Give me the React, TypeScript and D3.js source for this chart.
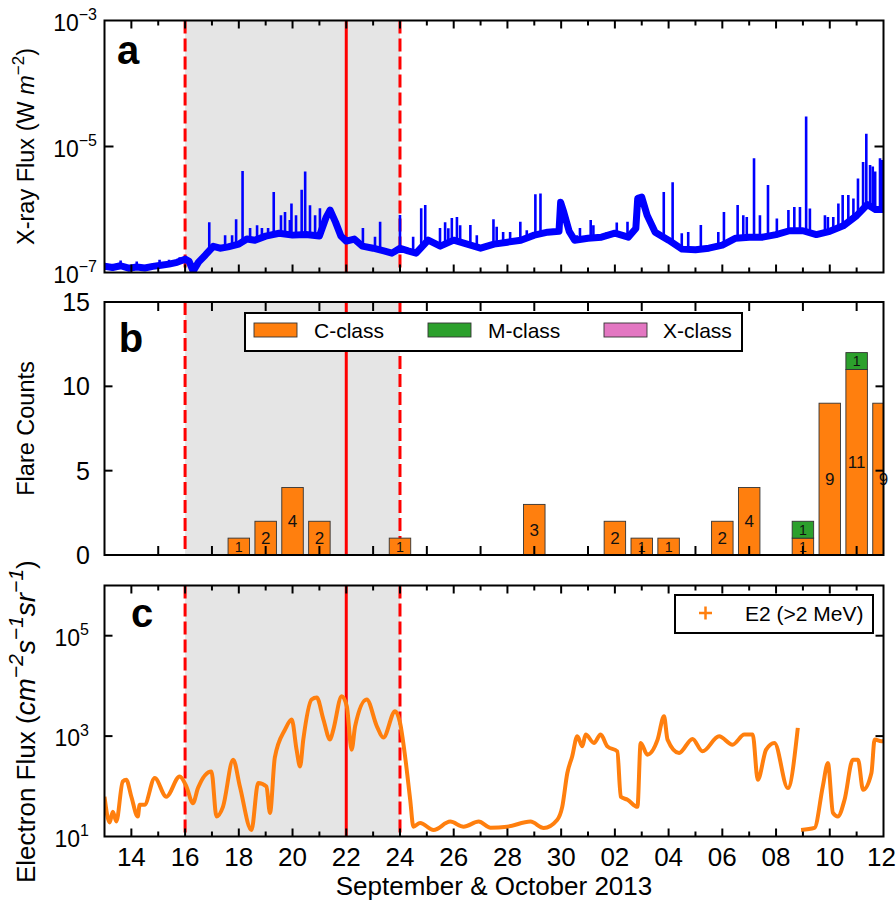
import React from "react";
import * as d3 from "d3";

// ---------- data ----------
const START = "2013-09-13";
const DAY_SPAN = 29; // Sept 13 -> Oct 12

const xTickLabels = ["14", "16", "18", "20", "22", "24", "26", "28", "30", "02", "04", "06", "08", "10", "12"];

const shadeStart = "2013-09-16";
const shadeEnd = "2013-09-24";
const markerSolid = "2013-09-22";

// GOES X-ray flux (W m^-2): [day since Sep 13, flux]
const xrayBase: [number, number][] = [
  [0, 1.26e-7], [0.3, 1.2e-7], [0.6, 1.28e-7], [0.9, 1.17e-7], [1.2, 1.22e-7], [1.5, 1.18e-7],
  [1.8, 1.25e-7], [2.1, 1.3e-7], [2.4, 1.36e-7], [2.7, 1.45e-7], [3.0, 1.63e-7], [3.15, 1.5e-7],
  [3.3, 1.05e-7], [3.5, 1.46e-7], [3.75, 1.88e-7], [4.05, 2.6e-7], [4.3, 2.43e-7], [4.6, 2.55e-7],
  [5.0, 2.82e-7], [5.3, 3.4e-7], [5.6, 3.26e-7], [6.0, 3.78e-7], [6.5, 4.2e-7], [7.0, 3.92e-7],
  [7.5, 4.0e-7], [8.0, 3.8e-7], [8.25, 7.5e-7], [8.4, 9.8e-7], [8.6, 6.3e-7], [8.8, 3.8e-7],
  [9.0, 3.15e-7], [9.3, 3.4e-7], [9.6, 2.62e-7], [10.0, 2.43e-7], [10.4, 2.2e-7], [10.7, 2.03e-7],
  [11.0, 2.43e-7], [11.3, 2.2e-7], [11.6, 2.03e-7], [12.05, 3.26e-7], [12.5, 2.62e-7], [13.0, 3.26e-7],
  [13.5, 2.82e-7], [14.0, 2.43e-7], [14.5, 2.82e-7], [15.0, 3.03e-7], [15.5, 3.26e-7], [16.0, 3.92e-7],
  [16.5, 4.37e-7], [16.92, 4.5e-7], [16.98, 1.3e-6], [17.1, 9e-7], [17.3, 4.5e-7], [17.5, 3.26e-7],
  [18.0, 3.5e-7], [18.5, 3.64e-7], [19.0, 4.2e-7], [19.5, 3.64e-7], [19.78, 5e-7], [19.85, 1.5e-6],
  [20.0, 1.57e-6], [20.2, 8.1e-7], [20.5, 4.37e-7], [21.0, 3.26e-7], [21.5, 2.35e-7], [22.0, 2.3e-7],
  [22.5, 2.43e-7], [23.0, 2.72e-7], [23.5, 3.5e-7], [24.0, 3.64e-7], [24.5, 3.64e-7], [25.0, 4.0e-7],
  [25.5, 4.6e-7], [26.0, 4.6e-7], [26.5, 4.0e-7], [27.0, 4.5e-7], [27.5, 5.5e-7], [28.0, 8.0e-7],
  [28.4, 1.2e-6], [28.7, 1.0e-6], [29.0, 1.0e-6],
];

// flare spikes rising above the background: [day, peak flux]
const xraySpikes: [number, number][] = [
  [0.6, 1.55e-7], [1.2, 1.5e-7], [2.05, 1.6e-7], [2.4, 1.6e-7], [2.8, 1.75e-7],
  [3.9, 6.3e-7], [4.49, 3.9e-7], [4.75, 3.9e-7], [4.9, 7e-7], [5.14, 4.1e-6], [5.42, 5.1e-7],
  [5.68, 5.6e-7], [5.86, 5.1e-7], [6.09, 5.1e-7], [6.3, 1.9e-6], [6.57, 8.1e-7], [6.72, 9.1e-7],
  [6.9, 6.8e-7], [6.96, 1.25e-6], [7.13, 8.1e-7], [7.34, 2.05e-6], [7.47, 4e-6], [7.65, 1.17e-6],
  [7.84, 8.1e-7], [8.02, 1.05e-6], [8.58, 5.6e-7], [8.77, 3.9e-7], [9.33, 3.5e-7], [9.62, 5.1e-7],
  [10.07, 3.7e-7], [10.26, 6.4e-7], [11.0, 8.2e-7], [11.49, 3.7e-7], [11.79, 1.05e-6], [11.94, 1.18e-6],
  [12.49, 5.1e-7], [12.68, 6.3e-7], [12.8, 5.06e-7], [12.93, 7.3e-7], [13.12, 7.6e-7], [13.24, 5.6e-7],
  [13.62, 5.65e-7], [13.86, 3.9e-7], [14.48, 7e-7], [14.6, 5.3e-7], [14.84, 4.4e-7], [15.1, 4.4e-7],
  [15.48, 6.4e-7], [15.72, 4.7e-7], [16.04, 1.75e-6], [16.23, 1.8e-6], [16.46, 4.7e-7], [16.65, 4.2e-7],
  [17.58, 3.9e-7], [17.7, 5.1e-7], [18.1, 6.8e-7], [18.2, 5.6e-7], [18.7, 4.4e-7], [19.07, 6.2e-7],
  [19.47, 6.4e-7], [20.82, 1.9e-6], [21.15, 2.7e-6], [21.49, 4.2e-7], [21.73, 4.4e-7], [22.2, 5.65e-7],
  [22.85, 4.4e-7], [23.06, 9.1e-7], [23.57, 1.18e-6], [23.78, 8.1e-7], [23.91, 7.6e-7], [24.18, 6.5e-6],
  [24.4, 8.1e-7], [24.7, 2.45e-6], [25.03, 7.2e-7], [25.46, 9.8e-7], [25.68, 1.1e-6], [25.89, 1.1e-6],
  [26.12, 3e-5], [26.26, 1.04e-6], [26.82, 8.1e-7], [26.93, 7.6e-7], [27.13, 7.6e-7], [27.32, 1.25e-6],
  [27.48, 1.7e-6], [27.69, 1.7e-6], [27.88, 1.5e-6], [28.05, 3.1e-6], [28.24, 5.7e-6], [28.36, 1.6e-5],
  [28.5, 5.1e-6], [28.6, 4.8e-6], [28.69, 4.0e-6], [28.87, 6.5e-6], [28.94, 6.1e-6],
];

// Flare counts per day
const flareDates = [
  "2013-09-18", "2013-09-19", "2013-09-20", "2013-09-21", "2013-09-24", "2013-09-29", "2013-10-02",
  "2013-10-03", "2013-10-04", "2013-10-06", "2013-10-07", "2013-10-09", "2013-10-10", "2013-10-11",
  "2013-10-12",
];
const cClass = [1, 2, 4, 2, 1, 3, 2, 1, 1, 2, 4, 1, 9, 11, 9];
const mClass = [0, 0, 0, 0, 0, 0, 0, 0, 0, 0, 0, 1, 0, 1, 0];
const xClass = [0, 0, 0, 0, 0, 0, 0, 0, 0, 0, 0, 0, 0, 0, 0];

// Electron flux E2 (>2 MeV): [day since Sep 13, flux]; NaN = data gap
const electronE2: [number, number][] = [
  [0, 62], [0.19, 19], [0.31, 31], [0.44, 20], [0.68, 125], [0.81, 135], [1.0, 62], [1.24, 25],
  [1.31, 43], [1.49, 43], [1.87, 146], [2.3, 62], [2.8, 157], [3.05, 99], [3.29, 46], [3.48, 92],
  [3.98, 198], [4.17, 25], [4.41, 39], [4.79, 339], [5.04, 99], [5.47, 13.5], [5.72, 116], [6.03, 99],
  [6.16, 29.5], [6.34, 372], [6.72, 1349], [6.97, 2138], [7.15, 537], [7.28, 249], [7.4, 851],
  [7.71, 5370], [7.9, 5890], [8.15, 2138], [8.4, 851], [8.52, 1349], [8.83, 6250], [9.02, 3945],
  [9.2, 537], [9.33, 1570], [9.76, 5370], [10.14, 1570], [10.38, 933], [10.82, 3130], [11.0, 1862],
  [11.19, 394], [11.38, 54], [11.5, 15.7], [11.75, 18.6], [12.25, 13.5], [12.87, 19.8], [13.37, 15.7],
  [13.93, 19.8], [14.37, 15], [14.99, 15.7], [15.86, 19.8], [16.35, 14.8], [16.85, 21.4], [17.04, 39],
  [17.23, 184], [17.41, 394], [17.6, 991], [17.79, 625], [17.91, 1072], [18.22, 731], [18.47, 1072],
  [18.72, 625], [19.09, 497], [19.22, 62], [19.47, 54], [19.84, 39], [19.96, 731], [20.21, 427],
  [20.59, 851], [20.83, 2489], [20.96, 851], [21.39, 461], [21.89, 879], [22.26, 497], [22.88, 991],
  [23.38, 676], [23.82, 1072], [24.13, 1072], [24.32, 135], [24.63, 537], [24.94, 731], [25.44, 92],
  [25.81, 1459], [25.87, NaN], [25.93, 13.5], [26.43, 14.8], [26.74, 99], [26.93, 291], [27.12, 29.5],
  [27.3, 25], [27.55, 54], [27.86, 339], [28.05, 339], [28.24, 85], [28.55, 184], [28.67, 851],
  [28.92, 787], [29.0, 800],
];

const yTicksA = [1e-7, 1e-5, 1e-3];
const yTicksB = [0, 5, 10, 15];
const yTicksC = [1e1, 1e3, 1e5];

// ---------- layout ----------
const X0 = 104.5;
const X1 = 883.5;
const A = { top: 20.5, bottom: 272.5 };
const B = { top: 302, bottom: 555 };
const C = { top: 585.5, bottom: 836.5 };
const FONT = "'Liberation Sans', Arial, Helvetica, sans-serif";
const ORANGE = "#ff7f0e";
const GREEN = "#2ca02c";
const PINK = "#e377c2";
const BLUE = "#0000ff";

const parse = d3.utcParse("%Y-%m-%d");
const t0 = parse(START)!.getTime();
const dayOf = (s: string) => (parse(s)!.getTime() - t0) / 864e5;

type Lin = d3.ScaleLinear<number, number>;

function Frame({ top, bottom }: { top: number; bottom: number }) {
  return <rect x={X0} y={top} width={X1 - X0} height={bottom - top} fill="none" stroke="#000" strokeWidth={2} />;
}

function Overlays({ top, bottom, x }: { top: number; bottom: number; x: Lin }) {
  return (
    <g>
      <line x1={x(dayOf(shadeStart))} x2={x(dayOf(shadeStart))} y1={top} y2={bottom} stroke="#ff0000" strokeWidth={3} strokeDasharray="13,5" />
      <line x1={x(dayOf(shadeEnd))} x2={x(dayOf(shadeEnd))} y1={top} y2={bottom} stroke="#ff0000" strokeWidth={3} strokeDasharray="13,5" />
      <line x1={x(dayOf(markerSolid))} x2={x(dayOf(markerSolid))} y1={top} y2={bottom} stroke="#ff0000" strokeWidth={3} />
    </g>
  );
}

function Shade({ top, bottom, x }: { top: number; bottom: number; x: Lin }) {
  return <rect x={x(dayOf(shadeStart))} y={top} width={x(dayOf(shadeEnd)) - x(dayOf(shadeStart))} height={bottom - top} fill="#e5e5e5" />;
}

function DayTicks({ top, bottom, x }: { top: number; bottom: number; x: Lin }) {
  const days = d3.range(1, DAY_SPAN);
  return (
    <g stroke="#000" strokeWidth={2}>
      {days.map((d) => {
        const len = d % 2 === 1 ? 8 : 5;
        return (
          <g key={d}>
            <line x1={x(d)} x2={x(d)} y1={bottom} y2={bottom - len} />
            <line x1={x(d)} x2={x(d)} y1={top} y2={top + len} />
          </g>
        );
      })}
    </g>
  );
}

function SupLabel({ x, y, base, exp, size, supSize }: { x: number; y: number; base: string; exp: string; size: number; supSize: number }) {
  return (
    <text x={x} y={y} textAnchor="end" fontFamily={FONT} fontSize={size} fill="#000">
      <tspan>{base}</tspan>
      <tspan dy={-size * 0.45} fontSize={supSize}>{exp}</tspan>
    </text>
  );
}

export default function App() {
  const x = d3.scaleLinear().domain([0, DAY_SPAN]).range([X0, X1]);
  const yA = d3.scaleLog().domain([1e-7, 1e-3]).range([A.bottom, A.top]);
  const yB = d3.scaleLinear().domain([0, 15]).range([B.bottom, B.top]);
  const yC = d3.scaleLog().domain([1e1, 1e6]).range([C.bottom, C.top]);

  const lineA = d3.line<[number, number]>().x((d) => x(d[0])).y((d) => yA(d[1]));
  const lineC = d3
    .line<[number, number]>()
    .defined((d) => !isNaN(d[1]))
    .curve(d3.curveMonotoneX)
    .x((d) => x(d[0]))
    .y((d) => yC(d[1]));

  const bis = d3.bisector((d: [number, number]) => d[0]).left;
  const baseAt = (day: number) => {
    const i = Math.max(1, Math.min(xrayBase.length - 1, bis(xrayBase, day)));
    const a = xrayBase[i - 1];
    const b = xrayBase[i];
    const t = (day - a[0]) / (b[0] - a[0]);
    return Math.pow(10, Math.log10(a[1]) * (1 - t) + Math.log10(b[1]) * t);
  };

  const barW = (x(1) - x(0)) * 0.8;
  const bars = flareDates.map((s, i) => ({ day: dayOf(s), c: cClass[i], m: mClass[i], xc: xClass[i] }));
  const segsOf = (b: { c: number; m: number; xc: number }) =>
    [
      { v: b.c, fill: ORANGE, y0: 0 },
      { v: b.m, fill: GREEN, y0: b.c },
      { v: b.xc, fill: PINK, y0: b.c + b.m },
    ].filter((s) => s.v > 0);
  const unitH = yB(0) - yB(1);

  return (
    <svg width={896} height={904} style={{ position: "absolute", left: 0, top: 0, display: "block" }} fontFamily={FONT}>
      <defs>
        <clipPath id="clipA"><rect x={X0} y={A.top} width={X1 - X0} height={A.bottom - A.top} /></clipPath>
        <clipPath id="clipB"><rect x={X0} y={B.top} width={X1 - X0} height={B.bottom - B.top} /></clipPath>
        <clipPath id="clipC"><rect x={X0} y={C.top} width={X1 - X0} height={C.bottom - C.top} /></clipPath>
      </defs>
      <rect width={896} height={904} fill="#fff" />

      {/* ---------- panel a ---------- */}
      <Shade top={A.top} bottom={A.bottom} x={x} />
      <Overlays top={A.top} bottom={A.bottom} x={x} />
      <g clipPath="url(#clipA)">
        <path d={lineA(xrayBase) ?? ""} fill="none" stroke={BLUE} strokeWidth={7} strokeLinejoin="round" />
        {xraySpikes.map(([d, f], i) => (
          <line key={i} x1={x(d)} x2={x(d)} y1={yA(baseAt(d))} y2={yA(f)} stroke={BLUE} strokeWidth={2.6} />
        ))}
      </g>
      <DayTicks top={A.top} bottom={A.bottom} x={x} />
      <g stroke="#000" strokeWidth={2}>
        {yTicksA.slice(1, 2).map((v) => (
          <g key={v}>
            <line x1={X0} x2={X0 + 9} y1={yA(v)} y2={yA(v)} />
            <line x1={X1} x2={X1 - 9} y1={yA(v)} y2={yA(v)} />
          </g>
        ))}
      </g>
      <Frame top={A.top} bottom={A.bottom} />
      {yTicksA.map((v) => (
        <SupLabel key={v} x={97} y={yA(v) + 10} base="10" exp={"\u2212" + Math.round(-Math.log10(v))} size={23} supSize={16} />
      ))}
      <text x={128} y={64} fontSize={40} fontWeight="bold" textAnchor="middle">a</text>
      <text transform={`translate(34,${(A.top + A.bottom) / 2}) rotate(-90)`} textAnchor="middle" fontSize={23.5}>
        <tspan>X-ray Flux (W </tspan>
        <tspan fontStyle="italic">m</tspan>
        <tspan dy={-10} fontSize={17}>{"\u22122"}</tspan>
        <tspan dy={10}>)</tspan>
      </text>

      {/* ---------- panel b ---------- */}
      <Shade top={B.top} bottom={B.bottom} x={x} />
      <Overlays top={B.top} bottom={B.bottom} x={x} />
      <g clipPath="url(#clipB)">
        {bars.map((b, i) => (
          <g key={i}>
            {segsOf(b).map((s, j) => (
              <rect key={j} x={x(b.day) - barW / 2} width={barW} y={yB(s.y0 + s.v)} height={yB(s.y0) - yB(s.y0 + s.v)} fill={s.fill} stroke="#333" strokeWidth={0.9} />
            ))}
          </g>
        ))}
      </g>
      {bars.map((b, i) =>
        segsOf(b).map((s, j) => {
          const fs = Math.min(17, s.v * unitH * 0.84);
          return (
            <text key={`${i}-${j}`} x={x(b.day)} y={yB(s.y0 + s.v / 2) + fs * 0.36} textAnchor="middle" fontSize={fs} fill="#111">
              {s.v}
            </text>
          );
        })
      )}
      <g stroke="#000" strokeWidth={2}>
        {d3.range(2, DAY_SPAN, 2).map((d) => (
          <g key={d}>
            <line x1={x(d)} x2={x(d)} y1={B.bottom} y2={B.bottom - 9} />
            <line x1={x(d)} x2={x(d)} y1={B.top} y2={B.top + 9} />
          </g>
        ))}
        {yTicksB.slice(1, 3).map((v) => (
          <g key={v}>
            <line x1={X0} x2={X0 + 8} y1={yB(v)} y2={yB(v)} />
            <line x1={X1} x2={X1 - 8} y1={yB(v)} y2={yB(v)} />
          </g>
        ))}
      </g>
      <Frame top={B.top} bottom={B.bottom} />
      {yTicksB.map((v) => (
        <text key={v} x={90} y={yB(v) + 9} textAnchor="end" fontSize={25}>{v}</text>
      ))}
      <text x={131} y={352} fontSize={40} fontWeight="bold" textAnchor="middle">b</text>
      <text transform={`translate(34,${(B.top + B.bottom) / 2}) rotate(-90)`} textAnchor="middle" fontSize={23.5}>Flare Counts</text>
      {/* legend b */}
      <rect x={245} y={313} width={497} height={38} fill="#fff" stroke="#000" strokeWidth={2} />
      {[
        { label: "C-class", fill: ORANGE, sx: 254, tx: 314 },
        { label: "M-class", fill: GREEN, sx: 428, tx: 488 },
        { label: "X-class", fill: PINK, sx: 604, tx: 663 },
      ].map((l) => (
        <g key={l.label}>
          <rect x={l.sx} y={323} width={43} height={14} fill={l.fill} stroke="#333" strokeWidth={0.9} />
          <text x={l.tx} y={338} fontSize={21}>{l.label}</text>
        </g>
      ))}

      {/* ---------- panel c ---------- */}
      <Shade top={C.top} bottom={C.bottom} x={x} />
      <Overlays top={C.top} bottom={C.bottom} x={x} />
      <g clipPath="url(#clipC)">
        <path d={lineC(electronE2) ?? ""} fill="none" stroke={ORANGE} strokeWidth={4} strokeLinejoin="round" />
      </g>
      <DayTicks top={C.top} bottom={C.bottom} x={x} />
      <g stroke="#000" strokeWidth={2}>
        {yTicksC.slice(1).map((v) => (
          <g key={v}>
            <line x1={X0} x2={X0 + 8} y1={yC(v)} y2={yC(v)} />
            <line x1={X1} x2={X1 - 8} y1={yC(v)} y2={yC(v)} />
          </g>
        ))}
      </g>
      <Frame top={C.top} bottom={C.bottom} />
      {yTicksC.map((v) => (
        <SupLabel key={v} x={89} y={yC(v) + 10} base="10" exp={String(Math.round(Math.log10(v)))} size={23} supSize={16} />
      ))}
      <text x={142} y={627} fontSize={40} fontWeight="bold" textAnchor="middle">c</text>
      {/* legend c */}
      <rect x={675} y={595} width={198} height={38} fill="#fff" stroke="#000" strokeWidth={2} />
      <g stroke={ORANGE} strokeWidth={2.5}>
        <line x1={699} x2={712} y1={613} y2={613} />
        <line x1={705.5} x2={705.5} y1={606.5} y2={619.5} />
      </g>
      <text x={745} y={621} fontSize={21}>E2 (&gt;2 MeV)</text>
      <text transform={`translate(35,883) rotate(-90)`} textAnchor="start" fontSize={26}>
        <tspan>Electron Flux (</tspan>
        <tspan fontStyle="italic" fontSize={28}>cm</tspan>
        <tspan dy={-12} fontSize={21} fontStyle="italic">{"\u22122"}</tspan>
        <tspan dy={12} fontStyle="italic" fontSize={28}>s</tspan>
        <tspan dy={-12} fontSize={21} fontStyle="italic">{"\u22121"}</tspan>
        <tspan dy={12} fontStyle="italic" fontSize={28}>sr</tspan>
        <tspan dy={-12} fontSize={21} fontStyle="italic">{"\u22121"}</tspan>
        <tspan dy={12}>)</tspan>
      </text>

      {/* x axis labels */}
      {xTickLabels.map((l, i) => {
        const last = i === xTickLabels.length - 1;
        return (
          <text key={l + i} x={last ? 896 : x(1 + 2 * i)} y={866} textAnchor={last ? "end" : "middle"} fontSize={26}>{l}</text>
        );
      })}
      <text x={494} y={895} textAnchor="middle" fontSize={26}>September &amp; October 2013</text>
    </svg>
  );
}
